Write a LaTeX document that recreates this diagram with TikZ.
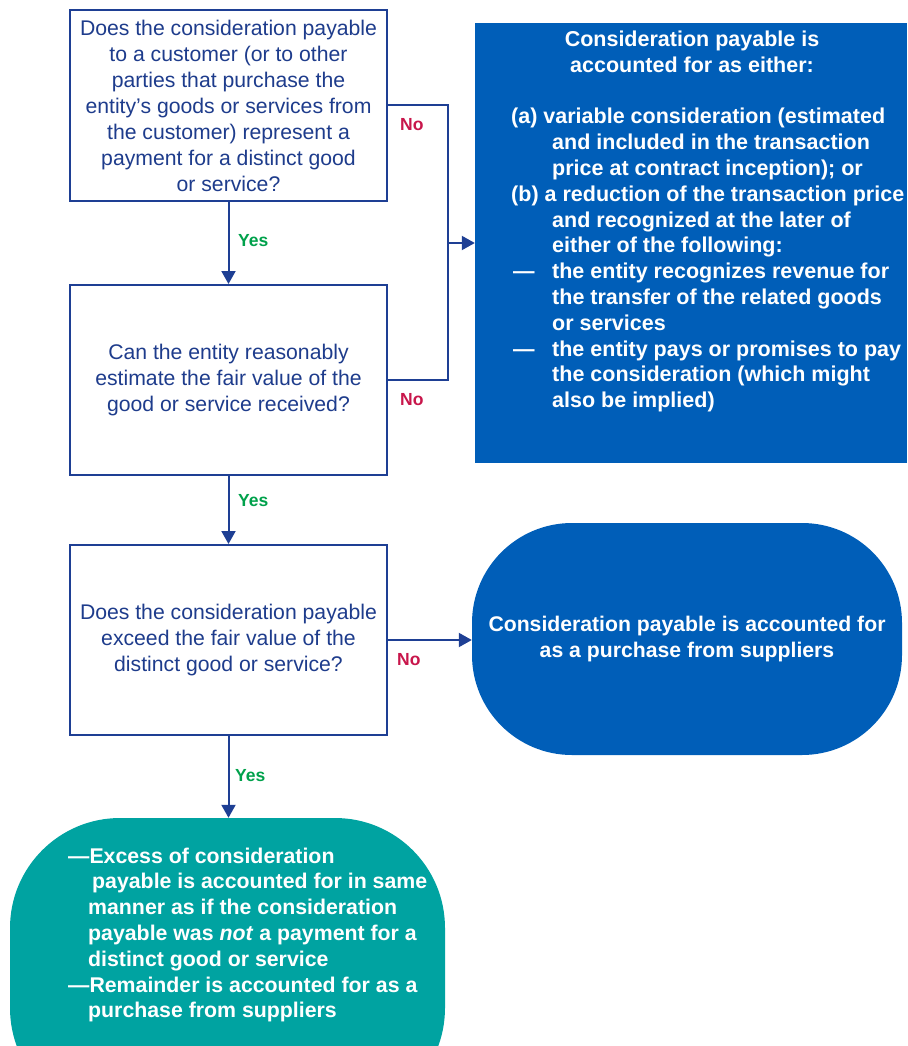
\documentclass[tikz,border=0pt]{standalone}
\usepackage{fontspec}
\setmainfont{Liberation Sans}
\usetikzlibrary{arrows.meta}
\definecolor{kline}{HTML}{1E3F94}
\definecolor{ktext}{HTML}{1E3C8C}
\definecolor{kfill}{HTML}{005EB8}
\definecolor{kteal}{HTML}{00A3A1}
\definecolor{kno}{HTML}{C8164B}
\definecolor{kyes}{HTML}{00A14B}
\newcommand{\ptext}[2]{\parbox[t]{#1}{#2}}
\newcommand{\hind}{\hspace*{41pt}}
\begin{document}
\begin{tikzpicture}[x=1pt,y=-1pt,
 qbox/.style={draw=kline, line width=2pt, fill=white, minimum width=317pt, minimum height=191pt, inner sep=0pt, align=center, text=ktext, font=\fontsize{21.2}{26}\selectfont},
 conn/.style={draw=kline, line width=2pt},
 arr/.style={conn, -{Triangle[length=13pt,width=14pt]}},
 yes/.style={text=kyes, font=\fontsize{17.5}{20}\selectfont\bfseries, anchor=west, inner sep=0pt},
 no/.style={text=kno, font=\fontsize{17.5}{20}\selectfont\bfseries, anchor=west, inner sep=0pt},
 wtext/.style={text=white, font=\fontsize{21.5}{25.8}\selectfont\bfseries, inner sep=0pt}
]
\useasboundingbox (0,0) rectangle (907,1046);
\clip (0,0) rectangle (907,1046);

\node[qbox] (b1) at (228.5,105.5) {Does the consideration payable\\to a customer (or to other\\parties that purchase the\\entity’s goods or services from\\the customer) represent a\\payment for a distinct good\\or service?};
\node[qbox, minimum height=190pt] (b2) at (228.5,380) {Can the entity reasonably\\estimate the fair value of the\\good or service received?};
\node[qbox, minimum height=190pt] (b3) at (228.5,640) {Does the consideration payable\\exceed the fair value of the\\distinct good or service?};

\node[fill=kfill, minimum width=432pt, minimum height=440pt, inner sep=0pt] (blue) at (691,243) {};
\node[wtext, anchor=base] (bt) at (692,47) {\ptext{420pt}{\centering Consideration payable is\\accounted for as either:}};
\node[wtext, anchor=base west] (bl) at (511,124) {\ptext{420pt}{\raggedright
(a) variable consideration (estimated\\
\hind and included in the transaction\\
\hind price at contract inception); or\\
(b) a reduction of the transaction price\\
\hind and recognized at the later of\\
\hind either of the following:\\
\makebox[41pt][l]{\hspace{2pt}—}the entity recognizes revenue for\\
\hind the transfer of the related goods\\
\hind or services\\
\makebox[41pt][l]{\hspace{2pt}—}the entity pays or promises to pay\\
\hind the consideration (which might\\
\hind also be implied)}};

\node[fill=kfill, minimum width=430pt, minimum height=232pt, rounded corners=100pt, inner sep=0pt, text=white, align=center, font=\fontsize{21.2}{25.8}\selectfont\bfseries] (oval) at (687,639) {Consideration payable is accounted for\\as a purchase from suppliers};

\node[fill=kteal, minimum width=435pt, minimum height=300pt, rounded corners=110pt, inner sep=0pt] (teal) at (227.5,968) {};
\node[wtext, font=\fontsize{21.3}{25.8}\selectfont\bfseries, anchor=base west] (tt) at (68,863) {\ptext{380pt}{\raggedright
—Excess of consideration\\
\hspace*{24pt}payable is accounted for in same\\
\hspace*{20pt}manner as if the consideration\\
\hspace*{20pt}payable was \textit{not} a payment for a\\
\hspace*{20pt}distinct good or service\\
—Remainder is accounted for as a\\
\hspace*{20pt}purchase from suppliers}};

\coordinate (j) at (448,243);
\draw[conn] (b1.east) -| (j);
\draw[conn] (b2.east) -| (j);
\draw[arr] (j) -- (j -| blue.west);
\draw[arr] (b1.south) -- (b2.north);
\draw[arr] (b2.south) -- (b3.north);
\draw[arr] (b3.south) -- (b3.south |- teal.north);
\draw[arr] (b3.east) -- (b3.east -| oval.west);

\node[yes] (y1) at (238,241) {Yes};
\node[yes] (y2) at (238,501) {Yes};
\node[yes] (y3) at (235,776) {Yes};
\node[no] (n1) at (400,125) {No};
\node[no] (n2) at (400,400) {No};
\node[no] (n3) at (397,660) {No};
\end{tikzpicture}
\end{document}
